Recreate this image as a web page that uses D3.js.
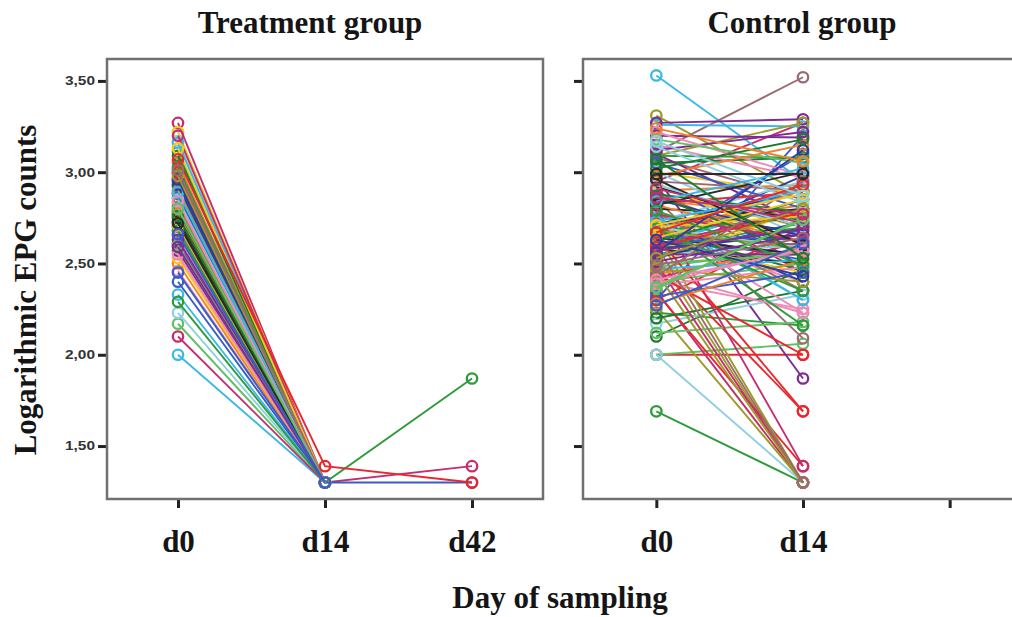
<!DOCTYPE html>
<html>
<head>
<meta charset="utf-8">
<script src="https://cdn.jsdelivr.net/npm/d3@7"></script>
<style>
  body { margin: 0; background: #fff; }
  svg { display: block; }
  .title, .axis-title, .day-label { font-family: "Liberation Serif", "Times New Roman", serif; font-weight: bold; fill: #151515; }
</style>
</head>
<body>
<svg id="chart" width="1012" height="617"></svg>
<script>
// ---- data (log10 EPG) ----
const treatDays = ["d0", "d14", "d42"]
const controlDays = ["d0", "d14", ""]
const yTicks = [1.5, 2.0, 2.5, 3.0, 3.5]

const treatD0 = [
  3.27, 2.00, 3.11, 3.22, 3.02, 2.95, 2.61, 2.79, 2.70, 2.46, 2.17, 2.40, 2.50, 2.23, 2.78, 2.73,
  2.10, 2.33, 2.29, 2.53, 2.99, 2.88, 2.57, 2.83, 2.92, 2.65, 2.68, 2.86, 3.05, 3.17, 3.09, 2.75,
  2.97, 3.16, 2.68, 2.71, 3.00, 2.93, 2.63, 2.90, 2.81, 2.55, 2.60, 2.45, 2.77, 2.85, 2.76, 2.72,
  3.20, 2.89, 3.03, 3.13, 3.07, 2.96, 2.59, 2.98, 3.01, 2.84, 2.80, 2.66
]
// d14: everybody at the floor except one subject
const treatD14 = treatD0.map((v, i) => i === 52 ? 1.39 : 1.30)
// d42: only four subjects were sampled
const treatD42 = treatD0.map((v, i) => ({ 0: 1.39, 2: 1.87, 11: 1.30, 52: 1.30 })[i] ?? null)

const controlD0 = [
  2.95, 3.53, 1.69, 2.78, 2.00, 2.70, 2.97, 3.31, 3.11, 2.65, 2.00, 2.30, 2.85, 2.00, 2.10, 2.72,
  2.35, 3.26, 2.23, 2.88, 2.52, 2.62, 3.27, 2.55, 3.08, 2.45, 2.60, 2.67, 2.90, 2.17, 3.05, 2.75,
  2.90, 2.78, 2.58, 3.00, 2.34, 2.63, 2.66, 2.25, 2.85, 3.15, 2.48, 2.97, 2.70, 3.00, 2.20, 2.80,
  2.42, 2.60, 2.55, 2.50, 2.30, 2.74, 3.10, 3.09, 2.88, 2.40, 2.12, 2.61, 2.65, 2.73, 2.68, 2.58,
  2.80, 2.75, 3.09, 2.62, 2.83, 2.58, 3.20, 2.66, 2.95, 2.72, 2.40, 2.65, 2.44, 2.55, 2.88, 2.64,
  2.50, 2.57, 2.68, 2.94, 2.65, 2.53, 3.12, 2.45, 2.78, 2.38, 2.50, 2.60, 2.82, 2.70, 2.62, 2.92,
  2.60, 2.47, 2.72, 2.70, 2.44, 2.85, 2.55, 2.68, 2.60, 3.22, 3.18, 3.05, 2.98, 2.93, 2.87, 2.82,
  2.77, 2.73, 2.69, 2.64, 2.59, 2.56, 2.51, 2.47, 2.43, 2.39, 2.36, 2.32, 2.28, 3.14, 3.02, 2.96,
  2.91, 2.84, 2.79, 2.71, 2.67, 2.63, 2.57, 2.53, 2.49, 2.41, 2.37, 2.27, 3.24, 3.17, 3.07, 2.99,
  2.86
]
const controlD14 = [
  3.27, 2.95, 1.30, 2.62, 2.00, 2.90, 1.87, 2.88, 3.52, 2.40, 2.06, 3.20, 2.75, 1.30, 2.47, 2.80,
  1.30, 3.25, 2.16, 2.70, 1.69, 2.55, 3.29, 1.30, 2.85, 2.23, 2.78, 2.52, 2.93, 2.33, 3.08, 2.68,
  2.45, 2.30, 2.72, 2.88, 1.39, 2.98, 2.60, 1.30, 2.09, 2.97, 2.58, 2.48, 2.82, 2.65, 2.35, 2.76,
  2.62, 2.85, 2.70, 2.80, 2.70, 2.40, 2.72, 3.27, 2.57, 2.25, 2.18, 3.10, 2.90, 2.95, 2.46, 2.50,
  1.39, 2.30, 3.08, 2.45, 2.89, 2.66, 3.19, 1.30, 2.90, 2.23, 2.50, 2.63, 2.58, 2.60, 2.78, 2.55,
  1.30, 2.94, 2.75, 2.60, 1.69, 2.73, 3.22, 1.30, 2.35, 2.48, 2.55, 2.68, 2.62, 2.58, 2.85, 2.70,
  2.80, 2.52, 2.16, 2.76, 2.00, 2.65, 2.55, 2.58, 1.30, 2.98, 3.05, 2.80, 3.15, 2.70, 2.55, 3.00,
  2.62, 2.90, 2.35, 2.85, 2.78, 3.12, 2.66, 2.40, 2.95, 2.58, 2.75, 2.45, 2.52, 2.83, 3.18, 2.60,
  2.72, 3.02, 2.49, 2.88, 2.93, 2.43, 2.69, 2.80, 2.64, 2.57, 2.74, 2.61, 3.06, 2.87, 2.53, 2.99,
  2.77
]

const palette = [
  "#c42e6e", "#3cb8e6", "#2f9a3c", "#f2c81e", "#e8282e", "#2e3c9c", "#7d2c92", "#9c9a28",
  "#9c6a72", "#ee8ab8", "#62c064", "#3a5cc8", "#f0802a", "#8fd0e0", "#1d7a2e", "#2a2a2a"
]

const treatSubjects = treatD0.map((v, i) => [v, treatD14[i], treatD42[i]])
const controlSubjects = controlD0.map((v, i) => [v, controlD14[i]])

// ---- layout ----
const svg = d3.select("#chart")
const plotTop = 59, plotBottom = 499

const y = d3.scaleLinear().domain([1.21, 3.62]).range([plotBottom, plotTop])
const xL = d3.scalePoint().domain(treatDays).range([107, 543]).padding(0.483)
const xR = d3.scalePoint().domain(controlDays).range([583, 1023]).padding(0.5)

function drawPanel(x, days, subjects, showLabels) {
  const left = x.range()[0], right = x.range()[1]

  // y ticks
  const yAxis = d3.axisLeft(y).tickValues(yTicks).tickSize(9).tickPadding(3)
    .tickFormat(showLabels ? (d => d.toFixed(2).replace(".", ",")) : "")
  const gy = svg.append("g").attr("transform", `translate(${left},0)`).call(yAxis)
  gy.select(".domain").remove()
  gy.selectAll(".tick line").attr("stroke", "#222").attr("stroke-width", 3)
  gy.selectAll(".tick text")
    .attr("font-family", "Liberation Sans, Arial, sans-serif")
    .attr("font-weight", "bold")
    .attr("font-size", 12)
    .attr("fill", "#333")
    .attr("textLength", 30)
    .attr("lengthAdjust", "spacingAndGlyphs")

  // x ticks
  const xAxis = d3.axisBottom(x).tickSize(9).tickPadding(22)
  const gx = svg.append("g").attr("transform", `translate(0,${plotBottom})`).call(xAxis)
  gx.select(".domain").remove()
  gx.selectAll(".tick line").attr("stroke", "#222").attr("stroke-width", 3)
  gx.selectAll(".tick text").attr("class", "day-label").attr("font-size", 31)

  // frame
  svg.append("rect")
    .attr("x", left).attr("y", plotTop)
    .attr("width", right - left).attr("height", plotBottom - plotTop)
    .attr("fill", "none")
    .attr("stroke", "#707070")
    .attr("stroke-width", 2.5)

  const line = d3.line()
    .defined(d => d.v != null)
    .x(d => x(d.day))
    .y(d => y(d.v))

  subjects.forEach((vals, i) => {
    const pts = vals.map((v, j) => ({ day: days[j], v: v }))
    const col = palette[i % palette.length]
    svg.append("path")
      .datum(pts)
      .attr("d", line)
      .attr("fill", "none")
      .attr("stroke", col)
      .attr("stroke-width", 1.9)
    svg.append("g").selectAll("circle")
      .data(pts.filter(d => d.v != null))
      .enter()
      .append("circle")
      .attr("cx", d => x(d.day))
      .attr("cy", d => y(d.v))
      .attr("r", 5.2)
      .attr("fill", "none")
      .attr("stroke", col)
      .attr("stroke-width", 2.3)
  })
}

drawPanel(xL, treatDays, treatSubjects, true)
drawPanel(xR, controlDays, controlSubjects, false)

// titles
svg.append("text").attr("class", "title")
  .attr("x", 310).attr("y", 33).attr("text-anchor", "middle").attr("font-size", 31)
  .text("Treatment group")
svg.append("text").attr("class", "title")
  .attr("x", 802).attr("y", 33).attr("text-anchor", "middle").attr("font-size", 31)
  .text("Control group")

svg.append("text").attr("class", "axis-title")
  .attr("transform", "translate(36,290) rotate(-90)")
  .attr("text-anchor", "middle").attr("font-size", 31)
  .text("Logarithmic EPG counts")

svg.append("text").attr("class", "axis-title")
  .attr("x", 560).attr("y", 608).attr("text-anchor", "middle").attr("font-size", 31)
  .text("Day of sampling")
</script>
</body>
</html>
